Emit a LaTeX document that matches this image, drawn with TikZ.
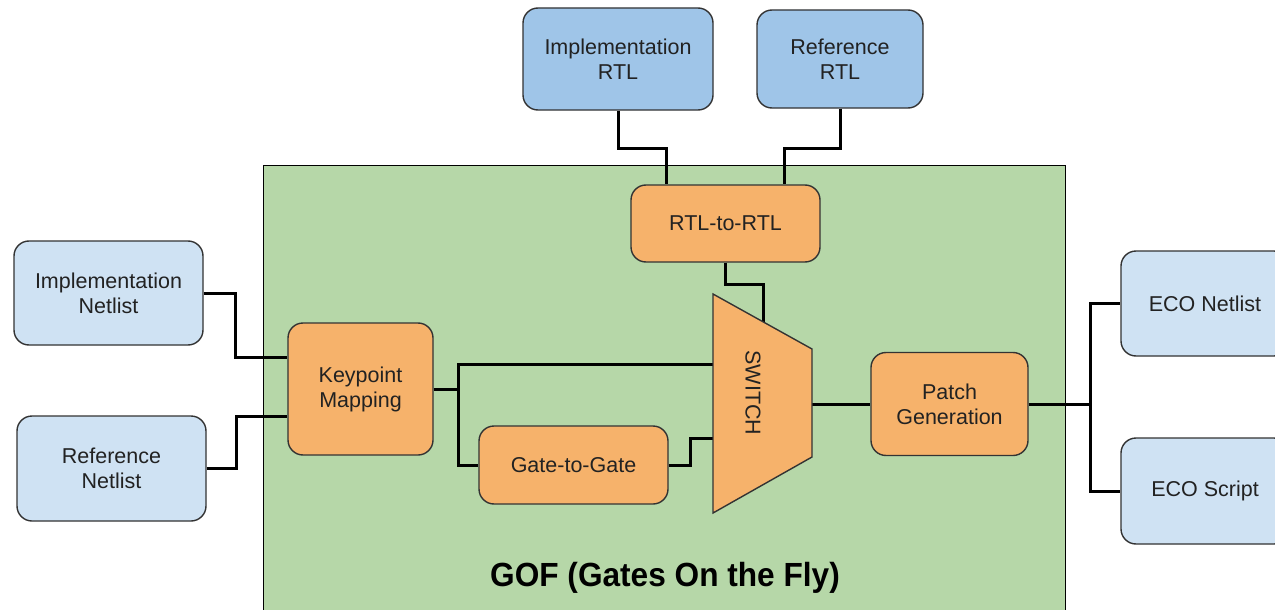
\documentclass[tikz,border=0pt]{standalone}
\usepackage{fontspec}
\setmainfont{Liberation Sans}
\usetikzlibrary{calc}
\definecolor{lblue}{HTML}{CFE2F3}
\definecolor{dblue}{HTML}{9FC5E8}
\definecolor{orng}{HTML}{F6B26B}
\definecolor{grn}{HTML}{B6D7A8}
\definecolor{edge}{HTML}{333333}
\definecolor{txt}{HTML}{222222}
\tikzset{
  box/.style={draw=edge, line width=1.4pt, rounded corners=15pt, align=center,
    text=txt, font=\fontsize{21.5}{25}\selectfont, inner sep=0pt},
  inbox/.style={box, fill=lblue},
  rtlbox/.style={box, fill=dblue},
  procbox/.style={box, fill=orng},
  wire/.style={draw=black, line width=3pt},
}
\begin{document}
\begin{tikzpicture}[x=1pt,y=-1pt]
\useasboundingbox (0,0) rectangle (1275,610);
\fill[white] (0,0) rectangle (1275,610);
% GOF container
\node[draw=black, line width=1.2pt, fill=grn, minimum width=802pt, minimum height=460pt, inner sep=0pt, anchor=north west] (gof) at (263,165) {};
\node[font=\bfseries\fontsize{31}{34}\selectfont, text=black, yscale=1.08, xscale=1.02] (title) at (665,578) {GOF (Gates On the Fly)};

% switch geometry
\coordinate (swTL) at (713,294);
\coordinate (swTR) at (812,349);
\coordinate (swBR) at (812,457);
\coordinate (swBL) at (713,513);
\coordinate (swIn1) at (713,364);
\coordinate (swIn2) at (713,438);
\coordinate (swOut) at (812,404);
\coordinate (swTop) at ($(swTL)!0.505!(swTR)$);

% nodes
\node[rtlbox, minimum width=190pt, minimum height=102pt] (implRTL) at (618,59) {Implementation\\RTL};
\node[rtlbox, minimum width=166pt, minimum height=98pt] (refRTL) at (840,59) {Reference\\RTL};
\node[procbox, minimum width=189pt, minimum height=77pt] (r2r) at (725.5,223.5) {RTL-to-RTL};
\node[inbox, minimum width=189pt, minimum height=104pt] (implNet) at (108.5,293) {Implementation\\Netlist};
\node[inbox, minimum width=189pt, minimum height=105pt] (refNet) at (111.5,468.5) {Reference\\Netlist};
\node[procbox, minimum width=145pt, minimum height=132pt] (kp) at (360.5,389) {Keypoint\\Mapping};
\node[procbox, minimum width=189pt, minimum height=78pt] (g2g) at (573.5,465) {Gate-to-Gate};
\node[procbox, minimum width=157pt, minimum height=103pt] (pg) at (949.5,404) {Patch\\Generation};
\node[inbox, minimum width=168pt, minimum height=105pt] (ecoN) at (1205,303.5) {ECO Netlist};
\node[inbox, minimum width=168pt, minimum height=106pt] (ecoS) at (1205,491) {ECO Script};

% connectors
\draw[wire] (implRTL.south) -- ++(0,38) -| ([xshift=-59.5pt]r2r.north);
\draw[wire] (refRTL.south) -- ++(0,40) -| ([xshift=58.5pt]r2r.north);
\draw[wire] (r2r.south) -- ++(0,22) -| (swTop);
\draw[wire] (implNet.east) -- ++(32,0) |- ([yshift=32pt]kp.west);
\draw[wire] (refNet.east) -- ++(30,0) |- ([yshift=-27pt]kp.west);
\draw[wire] (kp.east) -- ++(25,0) coordinate (kpj);
\draw[wire] (kpj) |- (swIn1);
\draw[wire] (kpj) |- (g2g.west);
\draw[wire] (g2g.east) -- ++(22,0) |- (swIn2);
\draw[wire] (swOut) -- (pg.west);
\draw[wire] (pg.east) -- ++(62,0) coordinate (pj);
\draw[wire] (pj) |- (ecoN.west);
\draw[wire] (pj) |- (ecoS.west);

% switch
\draw[draw=edge, line width=1.4pt, fill=orng, line join=miter] (swTL) -- (swTR) -- (swBR) -- (swBL) -- cycle;
\node[rotate=-90, text=txt, font=\fontsize{21.5}{25}\selectfont] (sw) at (753,393) {SWITCH};
\end{tikzpicture}
\end{document}
